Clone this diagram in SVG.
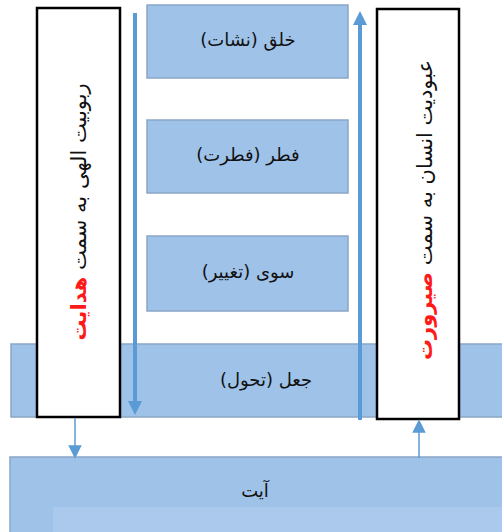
<svg xmlns="http://www.w3.org/2000/svg" width="502" height="532" viewBox="0 0 502 532">
<defs>
<style>
.box{fill:#9fc2e8;stroke:#8ba6c6;stroke-width:1.5}
.tbox{fill:#ffffff;stroke:#000000;stroke-width:2.5}
.lbl{font-family:"DejaVu Sans",sans-serif;font-size:18px;fill:#111111;text-anchor:middle}
.vt{font-family:"DejaVu Sans",sans-serif;font-size:21px;fill:#111111;text-anchor:middle}
.red{fill:#ff1a1a;font-weight:bold}
.arr{stroke:#5b9bd5;fill:none}
</style>
<marker id="ah" viewBox="0 0 10 10" refX="5" refY="5" markerWidth="3.5" markerHeight="3.5" orient="auto-start-reverse" markerUnits="strokeWidth">
<path d="M0,0 L10,5 L0,10 Z" fill="#5b9bd5"/>
</marker>
<marker id="ahs" viewBox="0 0 10 10" refX="5" refY="5" markerWidth="9" markerHeight="9" orient="auto-start-reverse" markerUnits="strokeWidth">
<path d="M0,0 L10,5 L0,10 Z" fill="#5b9bd5"/>
</marker>
</defs>
<rect width="502" height="532" fill="#ffffff"/>
<g id="node-jal">
<rect class="box" x="11" y="344" width="495" height="73"/>
<text class="lbl" x="266" y="386" direction="rtl">جعل (تحول)</text>
</g>
<g id="node-ayat">
<rect class="box" x="10" y="457" width="496" height="80"/>
<rect x="53" y="507" width="453" height="30" fill="#abc9ec"/>
<text class="lbl" x="255" y="497" direction="rtl">آیت</text>
</g>
<g id="node-khalq">
<rect class="box" x="147" y="5" width="201" height="73"/>
<text class="lbl" x="248" y="46" direction="rtl">خلق (نشات)</text>
</g>
<g id="node-fatr">
<rect class="box" x="147" y="120" width="201" height="73"/>
<text class="lbl" x="248" y="161" direction="rtl">فطر (فطرت)</text>
</g>
<g id="node-sawa">
<rect class="box" x="147" y="236" width="201" height="75"/>
<text class="lbl" x="248" y="278" direction="rtl">سوی (تغییر)</text>
</g>
<g id="node-rububiyat">
<rect class="tbox" x="37" y="8" width="83" height="409"/>
<text class="vt" transform="translate(86,212) rotate(-90)" direction="rtl">ربوبیت الهی به سمت <tspan class="red">هدایت</tspan></text>
</g>
<g id="node-ubudiyat">
<rect class="tbox" x="377" y="9" width="82" height="410"/>
<text class="vt" transform="translate(432,210) rotate(-90)" direction="rtl">عبودیت انسان به سمت <tspan class="red">صیرورت</tspan></text>
</g>
<g id="connectors">
<line class="arr" x1="135" y1="13" x2="135" y2="408" stroke-width="4" marker-end="url(#ah)"/>
<line class="arr" x1="360" y1="420" x2="360" y2="18" stroke-width="4" marker-end="url(#ah)"/>
<line class="arr" x1="75" y1="418" x2="75" y2="452" stroke-width="1.5" marker-end="url(#ahs)"/>
<line class="arr" x1="419" y1="458" x2="419" y2="426" stroke-width="1.5" marker-end="url(#ahs)"/>
</g>
</svg>
